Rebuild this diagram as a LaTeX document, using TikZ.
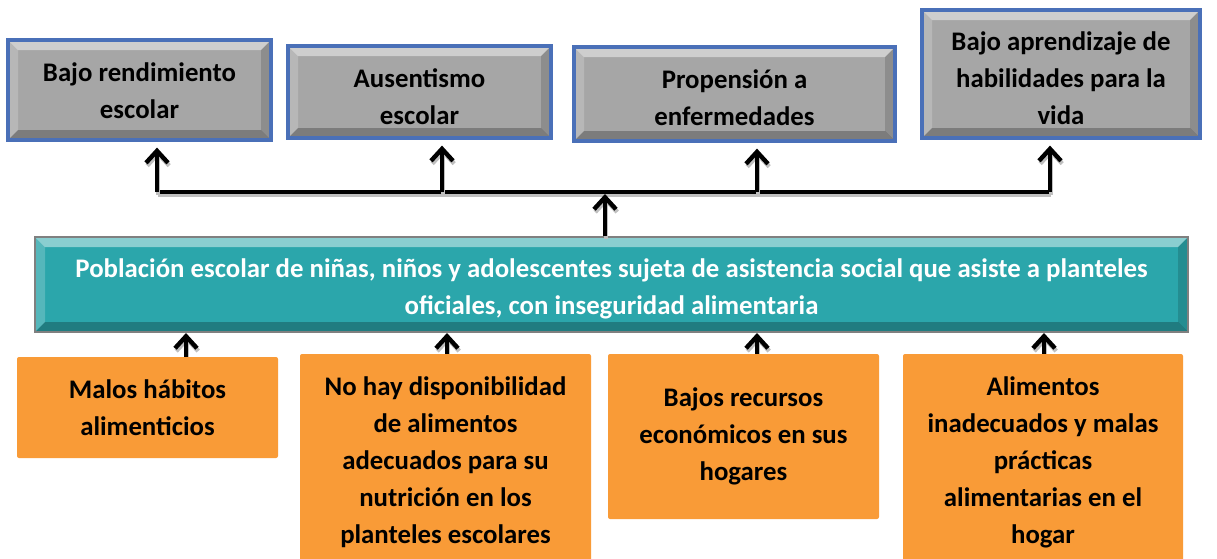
\documentclass[tikz,border=0pt]{standalone}
\usepackage{fontspec}
\setmainfont{Carlito}
\usetikzlibrary{arrows.meta}

\definecolor{grisbox}{HTML}{A6A6A6}
\definecolor{azulborde}{HTML}{4A70B8}
\definecolor{turquesa}{HTML}{2BA6AB}
\definecolor{naranja}{HTML}{F99B37}

\tikzset{
  bisel/.style={path picture={
      \fill[white,opacity=.45] (path picture bounding box.north west) -- (path picture bounding box.north east)
        -- ([shift={(-5pt,-5pt)}]path picture bounding box.north east) -- ([shift={(5pt,-5pt)}]path picture bounding box.north west) -- cycle;
      \fill[white,opacity=.2] (path picture bounding box.north west) -- (path picture bounding box.south west)
        -- ([shift={(5pt,5pt)}]path picture bounding box.south west) -- ([shift={(5pt,-5pt)}]path picture bounding box.north west) -- cycle;
      \fill[black,opacity=.25] (path picture bounding box.south west) -- (path picture bounding box.south east)
        -- ([shift={(-5pt,5pt)}]path picture bounding box.south east) -- ([shift={(5pt,5pt)}]path picture bounding box.south west) -- cycle;
      \fill[black,opacity=.15] (path picture bounding box.north east) -- (path picture bounding box.south east)
        -- ([shift={(-5pt,5pt)}]path picture bounding box.south east) -- ([shift={(-5pt,-5pt)}]path picture bounding box.north east) -- cycle;
  }},
  texto/.style={align=center,font=\fontsize{13.4}{18.5}\selectfont\bfseries},
  efecto/.style={bisel,fill=grisbox,draw=azulborde,line width=1.6pt},
  problema/.style={bisel,fill=turquesa,draw=gray,line width=1pt},
  causa/.style={texto,fill=naranja,rounded corners=1pt},
  linea/.style={line width=2.2pt,preaction={draw=gray!50,line width=2.2pt,transform canvas={shift={(0.6pt,-1.4pt)}}}},
  flecha/.style={linea,-{Straight Barb[length=6pt,width=11pt]}},
}

\begin{document}
\begin{tikzpicture}[x=0.5pt,y=-0.5pt]
    \useasboundingbox (0,0) rectangle (1217,558) ;

    % efectos
    \node[efecto,minimum width=131.5pt,minimum height=50pt,
      label={[texto,yshift=-0.5pt]center:{Bajo rendimiento\\escolar}}] (e1) at (139.5,90) {} ;
    \node[efecto,minimum width=131.5pt,minimum height=46pt,
      label={[texto,yshift=-2.5pt]center:{Ausentismo\\escolar}}] (e2) at (419.5,92) {} ;
    \node[efecto,minimum width=160.5pt,minimum height=47pt,
      label={[texto,yshift=-1.75pt]center:{Propensión a\\enfermedades}}] (e3) at (734.5,94) {} ;
    \node[efecto,minimum width=139pt,minimum height=64pt,
      label={[texto,yshift=-2.25pt]center:{Bajo aprendizaje de\\habilidades para la\\vida}}] (e4) at (1061,74) {} ;

    % problema central
    \node[problema,minimum width=576.5pt,minimum height=47.5pt,
      label={[texto,text=white,yshift=-2pt]center:{Población escolar de niñas, niños y adolescentes sujeta de asistencia social que asiste a planteles\\oficiales, con inseguridad alimentaria}}]
      (pob) at (611.5,284.5) {} ;

    \coordinate (h0) at (605,192) ;
    \coordinate (h1) at (157,192) ;
    \coordinate (h2) at (442,192) ;
    \coordinate (h3) at (757,192) ;
    \coordinate (h4) at (1050,192) ;
    \draw[linea] (h1) -- (h4) ;
    \foreach \i in {1,...,4}
      \draw[flecha,shorten >=3pt] (h\i) -- (h\i |- e\i.south) ;
    \draw[flecha,shorten >=1pt] (pob.north -| h0) -- (h0) ;

    % causas
    \coordinate (b1) at (186,357) ;
    \coordinate (b2) at (447,354) ;
    \coordinate (b3) at (757,354) ;
    \coordinate (b4) at (1044,354) ;
    \foreach \i in {1,...,4}
      \draw[flecha] (b\i) -- (b\i |- pob.south) ;

    \node[causa,minimum width=130.5pt,minimum height=50.5pt] (c1) at (147.5,407.5) {Malos hábitos\\alimenticios} ;
    \node[causa,minimum width=145.5pt,minimum height=108pt] (c2) at (445.5,462)
      {No hay disponibilidad\\de alimentos\\adecuados para su\\nutrición en los\\planteles escolares} ;
    \node[causa,minimum width=135.5pt,minimum height=82.5pt] (c3) at (743.5,436.5) {Bajos recursos\\económicos en sus\\hogares} ;
    \node[causa,minimum width=140pt,minimum height=108pt] (c4) at (1043,462)
      {Alimentos\\inadecuados y malas\\prácticas\\alimentarias en el\\hogar} ;
\end{tikzpicture}
\end{document}
